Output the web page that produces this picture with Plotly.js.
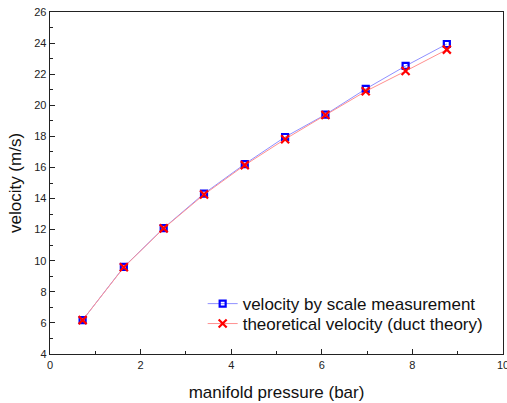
<!DOCTYPE html>
<html>
<head>
<script src="https://cdn.plot.ly/plotly-3.0.1.min.js"></script>
<style>html,body{margin:0;padding:0;background:#fff;}#chart{width:507px;height:403px;}</style>
</head>
<body>
<div id="chart"></div>
<script>
const pressure = [0.72, 1.63, 2.51, 3.40, 4.30, 5.19, 6.08, 6.97, 7.85, 8.76];
const velocityMeasured = [6.18, 9.6, 12.1, 14.32, 16.22, 17.96, 19.4, 21.05, 22.53, 23.94];
const velocityTheory = [6.18, 9.58, 12.08, 14.26, 16.15, 17.82, 19.37, 20.9, 22.2, 23.58];
const seriesNames = ["velocity by scale measurement", "theoretical velocity (duct theory)"];

const data = [
  {
    x: pressure, y: velocityMeasured, name: seriesNames[0], legend: 'legend',
    type: 'scatter', mode: 'lines+markers',
    line: {color: '#9090ff', width: 1},
    marker: {symbol: 'square-open', size: 6, color: '#0000ff', line: {width: 2.2, color: '#0000ff'}}
  },
  {
    x: pressure, y: velocityTheory, name: seriesNames[1], legend: 'legend2',
    type: 'scatter', mode: 'lines+markers',
    line: {color: '#ff9090', width: 1},
    marker: {symbol: 'x-thin-open', size: 8, color: '#ff0000', line: {width: 2.2, color: '#ff0000'}}
  }
];

const axisCommon = {
  showgrid: false, zeroline: false,
  showline: true, linecolor: '#222', linewidth: 1.3, mirror: true,
  ticks: 'inside', ticklen: 5, tickwidth: 1, tickcolor: '#222',
  ticklabeloverflow: 'allow',
  tickfont: {family: 'Liberation Sans, Arial, sans-serif', size: 11, color: '#222'}
};

const legendCommon = {
  xanchor: 'left', yanchor: 'middle', bgcolor: 'rgba(0,0,0,0)',
  font: {size: 17, family: 'Liberation Sans, Arial, sans-serif', color: '#111'},
  itemwidth: 30
};

const layout = {
  width: 507, height: 403,
  margin: {l: 50, r: 4, t: 12, b: 49},
  paper_bgcolor: '#fff', plot_bgcolor: '#fff',
  font: {family: 'Liberation Sans, Arial, sans-serif', color: '#111'},
  showlegend: true,
  legend: Object.assign({}, legendCommon, {x: 0.337, y: 0.146}),
  legend2: Object.assign({}, legendCommon, {x: 0.337, y: 0.0877}),
  xaxis: Object.assign({}, axisCommon, {
    range: [0, 10], dtick: 2, tick0: 0,
    minor: {dtick: 1, ticks: 'inside', ticklen: 3, tickcolor: '#222'},
    title: {text: 'manifold pressure (bar)', font: {size: 17}, standoff: 16}
  }),
  yaxis: Object.assign({}, axisCommon, {
    range: [4, 26], dtick: 2, tick0: 4,
    minor: {dtick: 1, ticks: 'inside', ticklen: 3, tickcolor: '#222'},
    title: {text: 'velocity (m/s)', font: {size: 17}, standoff: 8}
  })
};

Plotly.newPlot('chart', data, layout, {displayModeBar: false, staticPlot: true});
</script>
</body>
</html>
